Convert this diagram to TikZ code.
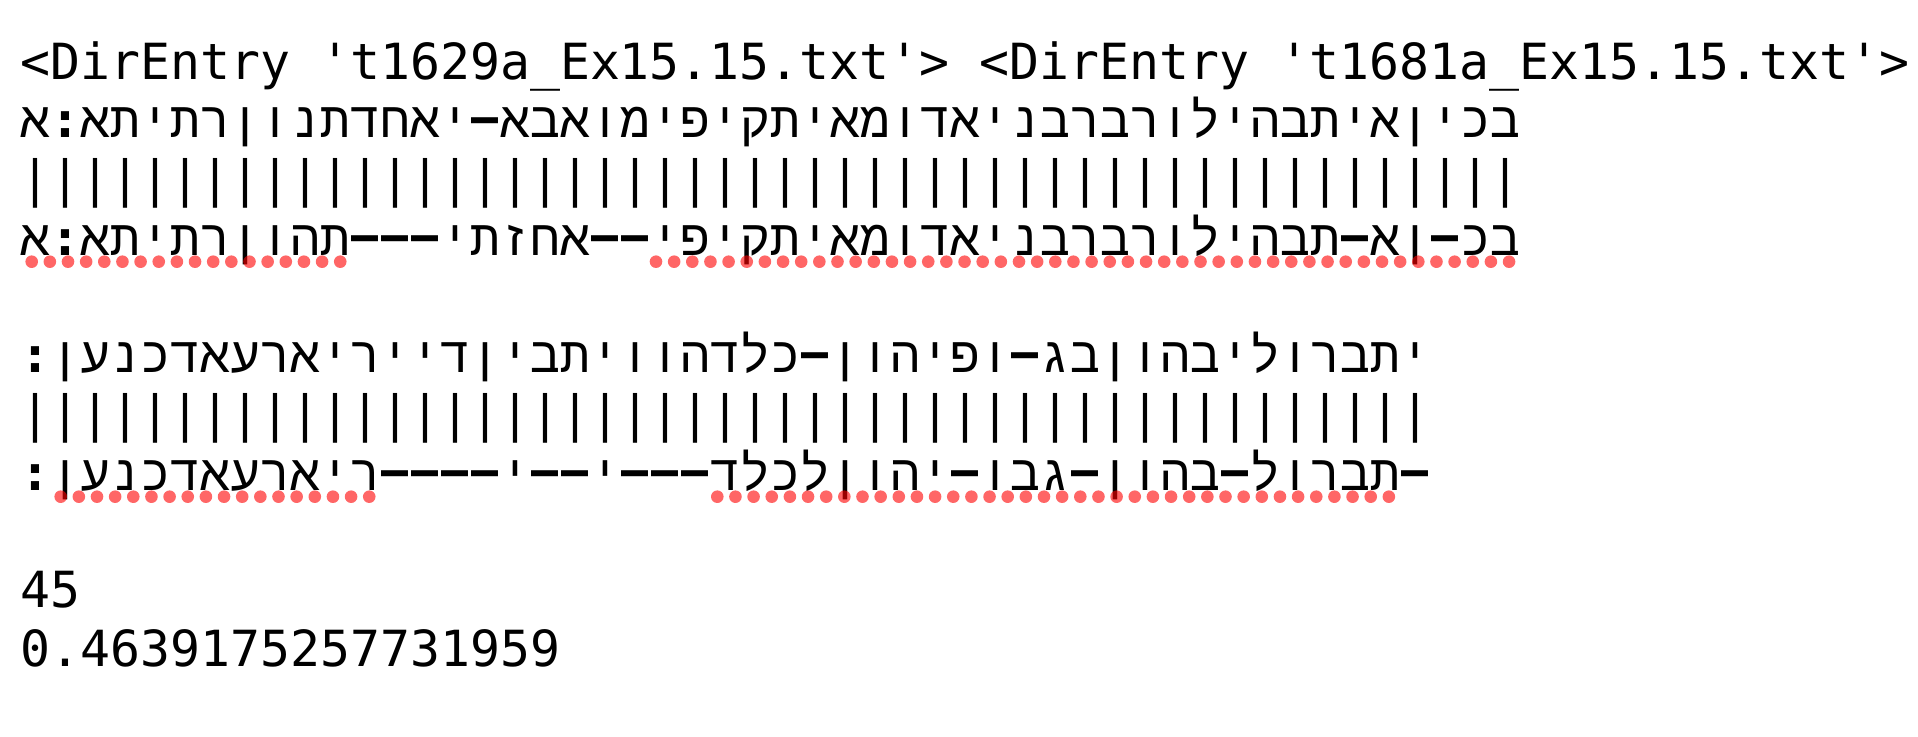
\documentclass[tikz,border=0pt]{standalone}
\usepackage{fontspec}
\setmonofont{DejaVu Sans Mono}
\newfontfamily\hebfont[Script=Hebrew]{Liberation Mono}
\newcommand\cln{{\ttfamily\bfseries :}}
\newcommand\dsh{\raisebox{1.5pt}{\scalebox{0.9}[1]{\ttfamily\bfseries –}}}
\tikzset{
  termtext/.style={font=\ttfamily\fontsize{24.9pt}{29pt}\selectfont, anchor=base west, inner sep=0pt},
  hebchar/.style={font=\hebfont\fontsize{24.9pt}{29pt}\selectfont, anchor=base, inner sep=0pt},
  barchar/.style={font=\ttfamily\fontsize{24.9pt}{29pt}\selectfont, anchor=base, inner sep=0pt},
  matchdot/.style={fill=red, fill opacity=0.6}
}
\begin{document}
\begin{tikzpicture}[x=0.5pt,y=-0.5pt]
    \useasboundingbox[fill=white] (0,0) rectangle (1918,737);
    \node[termtext] (hdr) at (20,79.3) {<DirEntry 't1629a\_Ex15.15.txt'> <DirEntry 't1681a\_Ex15.15.txt'>};
    \foreach \ch [count=\i from 0] in {א,\cln,א,ת,י,ת,ר,ן,ו,נ,ת,ד,ח,א,י,\dsh,א,ב,א,ו,מ,י,פ,י,ק,ת,י,א,מ,ו,ד,א,י,נ,ב,ר,ב,ר,ו,ל,י,ה,ב,ת,י,א,ן,י,כ,ב}
	\node[hebchar] (ta\i) at (35+30*\i,138) {\ch};
    \foreach \i in {0,...,49}
	\node[barchar] (pa\i) at (35+30*\i,196.7) {|};
    \foreach \ch [count=\i from 0] in {א,\cln,א,ת,י,ת,ר,ן,ו,ה,ת,\dsh,\dsh,\dsh,י,ת,ז,ח,א,\dsh,\dsh,י,פ,י,ק,ת,י,א,מ,ו,ד,א,י,נ,ב,ר,ב,ר,ו,ל,י,ה,ב,ת,\dsh,א,ן,\dsh,כ,ב}
	\node[hebchar] (sa\i) at (35+30*\i,255.4) {\ch};
    \foreach \ch [count=\i from 0] in {\cln,ן,ע,נ,כ,ד,א,ע,ר,א,י,ר,י,י,ד,ן,י,ב,ת,י,ו,ו,ה,ד,ל,כ,\dsh,ן,ו,ה,י,פ,ו,\dsh,ג,ב,ן,ו,ה,ב,י,ל,ו,ר,ב,ת,י}
	\node[hebchar] (tb\i) at (35+30*\i,372.8) {\ch};
    \foreach \i in {0,...,46}
	\node[barchar] (pb\i) at (35+30*\i,431.5) {|};
    \foreach \ch [count=\i from 0] in {\cln,ן,ע,נ,כ,ד,א,ע,ר,א,י,ר,\dsh,\dsh,\dsh,\dsh,י,\dsh,\dsh,י,\dsh,\dsh,\dsh,ד,ל,כ,ל,ן,ו,ה,י,\dsh,ו,ב,ג,\dsh,ן,ו,ה,ב,\dsh,ל,ו,ר,ב,ת,\dsh}
	\node[hebchar] (sb\i) at (35+30*\i,490.2) {\ch};
    \foreach \k in {0,...,17}
	\fill[matchdot] (31.7+18.15*\k,261.7) circle (3.15pt);
    \foreach \k in {0,...,47}
	\fill[matchdot] (656+18.15*\k,261.7) circle (3.15pt);
    \foreach \k in {0,...,17}
	\fill[matchdot] (60.7+18.15*\k,496.7) circle (3.15pt);
    \foreach \k in {0,...,37}
	\fill[matchdot] (717.3+18.15*\k,496.7) circle (3.15pt);
    \node[termtext] (cnt) at (20,607.6) {45};
    \node[termtext] (ratio) at (20,666.3) {0.4639175257731959};
\end{tikzpicture}
\end{document}
